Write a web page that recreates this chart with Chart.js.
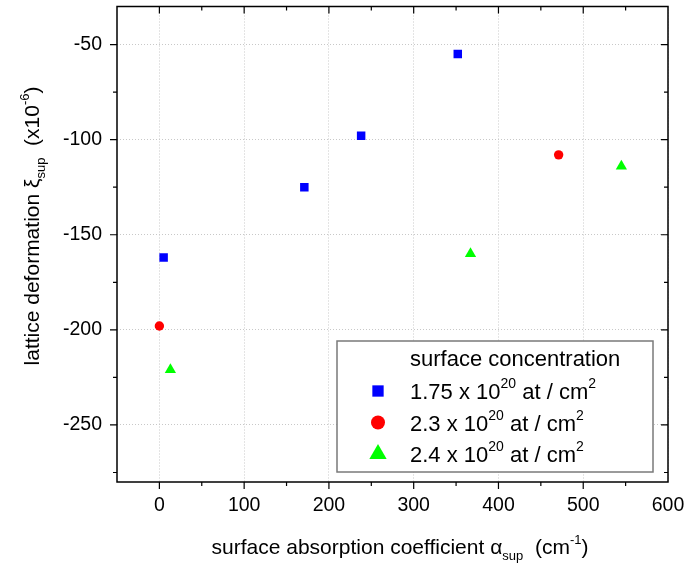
<!DOCTYPE html>
<html>
<head>
<meta charset="utf-8">
<script src="https://cdn.jsdelivr.net/npm/chart.js@4.4.1/dist/chart.umd.min.js"></script>
<style>
  body { margin: 0; background: #fff; }
  canvas { display: block; }
</style>
</head>
<body>
<canvas id="chart" width="686" height="568"></canvas>
<script>
// absorption coefficient (cm^-1) vs lattice deformation (x10^-6), per surface concentration
const alpha175 = [5, 171, 238, 352];
const xi175 = [-162, -125, -98, -55];
const alpha23 = [0, 471];
const xi23 = [-198, -108];
const alpha24 = [13, 367, 545];
const xi24 = [-221, -160, -114];

const concentrations = ['1.75', '2.3', '2.4'];
const xTickValues = [0, 100, 200, 300, 400, 500, 600];
const yTickValues = [-250, -200, -150, -100, -50];

const FONT = "'Liberation Sans', Arial, sans-serif";
const colors = ['#0000ff', '#ff0000', '#00ff00'];
const shapes = ['rect', 'circle', 'triangle'];
const sizes = [6, 4.7, 6.5];

function points(xs, ys) {
  return xs.map((x, i) => ({ x: x, y: ys[i] }));
}

const seriesData = [points(alpha175, xi175), points(alpha23, xi23), points(alpha24, xi24)];

// draws a run of text pieces, some raised or lowered, centred on x
function richText(ctx, parts, x, y, size) {
  const small = Math.round(size * 0.62);
  let w = 0;
  parts.forEach(p => {
    ctx.font = (p.s ? small : size) + 'px ' + FONT;
    p.w = ctx.measureText(p.t).width;
    w += p.w;
  });
  let cx = x - w / 2;
  ctx.textAlign = 'left';
  ctx.textBaseline = 'alphabetic';
  parts.forEach(p => {
    ctx.font = (p.s ? small : size) + 'px ' + FONT;
    let dy = 0;
    if (p.s === 'sub') dy = size * 0.3;
    if (p.s === 'sup') dy = -size * 0.5;
    ctx.fillText(p.t, cx, y + dy);
    cx += p.w;
  });
  return w;
}

function richTextLeft(ctx, parts, x, y, size) {
  const small = Math.round(size * 0.62);
  let w = 0;
  parts.forEach(p => {
    ctx.font = (p.s ? small : size) + 'px ' + FONT;
    w += ctx.measureText(p.t).width;
  });
  richText(ctx, parts, x + w / 2, y, size);
}

const framePlugin = {
  id: 'frame',
  beforeDatasetsDraw(chart) {
    const { ctx, chartArea: a, scales } = chart;
    const xs = scales.x, ys = scales.y;
    ctx.save();
    ctx.strokeStyle = '#000';
    ctx.lineWidth = 1.5;
    ctx.strokeRect(a.left, a.top, a.right - a.left, a.bottom - a.top);
    ctx.lineWidth = 1.2;
    ctx.beginPath();
    for (let v = 0; v < 600; v += 50) {
      const px = xs.getPixelForValue(v);
      const len = v % 100 === 0 ? 7 : 4;
      ctx.moveTo(px, a.bottom); ctx.lineTo(px, a.bottom + len);
      ctx.moveTo(px, a.top); ctx.lineTo(px, a.top + len);
    }
    for (let v = -275; v <= -50; v += 25) {
      const py = ys.getPixelForValue(v);
      const len = v % 50 === 0 ? 7 : 4;
      ctx.moveTo(a.left, py); ctx.lineTo(a.left - len, py);
      ctx.moveTo(a.right, py); ctx.lineTo(a.right - len, py);
    }
    ctx.stroke();
    ctx.restore();
  },
  afterDraw(chart) {
    const { ctx } = chart;
    ctx.save();
    ctx.fillStyle = '#000';
    // x axis title
    richText(ctx, [
      { t: 'surface absorption coefficient ' },
      { t: 'α' }, { t: 'sup', s: 'sub' },
      { t: '  (cm' }, { t: '-1', s: 'sup' }, { t: ')' }
    ], 400, 554, 21);
    // y axis title
    ctx.translate(39, 226);
    ctx.rotate(-Math.PI / 2);
    richText(ctx, [
      { t: 'lattice deformation ' },
      { t: 'ξ' }, { t: 'sup', s: 'sub' },
      { t: '  (x10' }, { t: '-6', s: 'sup' }, { t: ')' }
    ], 0, 0, 21);
    ctx.restore();

    // legend
    ctx.save();
    ctx.fillStyle = '#fff';
    ctx.fillRect(337, 341, 316, 131);
    ctx.strokeStyle = '#7a7a7a';
    ctx.lineWidth = 1.5;
    ctx.strokeRect(337, 341, 316, 131);
    ctx.fillStyle = '#000';
    richTextLeft(ctx, [{ t: 'surface concentration' }], 410, 366, 22);
    const legendSizes = [8, 7, 10];
    concentrations.forEach((c, i) => {
      const yRow = 391 + i * 31.5;
      ctx.fillStyle = colors[i];
      Chart.helpers.drawPoint(ctx, { pointStyle: shapes[i], radius: legendSizes[i], rotation: 0, borderWidth: 0 }, 378, yRow);
      ctx.fillStyle = '#000';
      richTextLeft(ctx, [
        { t: c + ' x 10' }, { t: '20', s: 'sup' },
        { t: ' at / cm' }, { t: '2', s: 'sup' }
      ], 410, yRow + 8, 22);
    });
    ctx.restore();
  }
};

new Chart(document.getElementById('chart'), {
  type: 'scatter',
  data: {
    datasets: seriesData.map((d, i) => ({
      label: concentrations[i] + ' x 10^20 at / cm^2',
      data: d,
      pointStyle: shapes[i],
      pointRadius: sizes[i],
      pointBackgroundColor: colors[i],
      pointBorderWidth: 0,
      pointBorderColor: colors[i]
    }))
  },
  options: {
    responsive: false,
    animation: false,
    layout: { padding: { top: 4, right: 18, left: 0, bottom: 0 } },
    plugins: { legend: { display: false }, tooltip: { enabled: false } },
    scales: {
      x: {
        type: 'linear',
        min: -50,
        max: 600,
        afterBuildTicks: s => { s.ticks = xTickValues.map(v => ({ value: v })); },
        afterFit: s => { s.height = 86; s.paddingLeft = 0; s.paddingRight = 0; },
        border: { display: false, dash: [1, 2] },
        grid: { color: '#c8c8c8', lineWidth: 1, drawTicks: false },
        ticks: { color: '#000', padding: 12, font: { family: FONT, size: 19.5 }, maxRotation: 0 }
      },
      y: {
        type: 'linear',
        min: -280,
        max: -30,
        afterBuildTicks: s => { s.ticks = yTickValues.map(v => ({ value: v })); },
        afterFit: s => { s.width = 117; s.paddingTop = 0; s.paddingBottom = 0; },
        border: { display: false, dash: [1, 2] },
        grid: { color: '#c8c8c8', lineWidth: 1, drawTicks: false },
        ticks: { color: '#000', padding: 15, font: { family: FONT, size: 19.5 } }
      }
    }
  },
  plugins: [framePlugin]
});
</script>
</body>
</html>
